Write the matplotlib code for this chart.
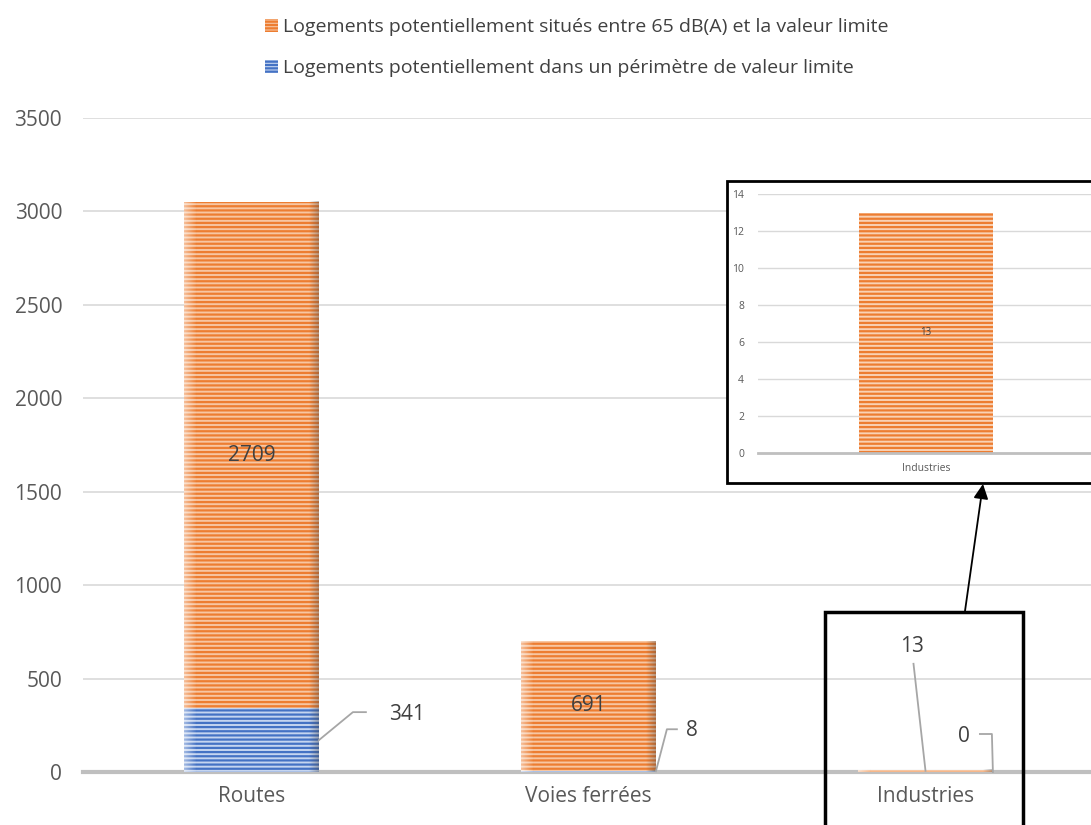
import numpy as np
import matplotlib
matplotlib.use("Agg")
import matplotlib.pyplot as plt
from matplotlib.patches import Patch, Rectangle, FancyArrowPatch
from matplotlib.lines import Line2D

plt.rcParams.update({"font.family": ["Open Sans", "DejaVu Sans"],
                     "hatch.linewidth": 1.6})

# ---- data ----------------------------------------------------------------
categories = ["Routes", "Voies ferrées", "Industries"]
dans_limite = [341, 8, 0]          # blue, bottom of stack
entre_65_limite = [2709, 691, 13]  # orange, top of stack
label_limite = "Logements potentiellement dans un périmètre de valeur limite"
label_65 = "Logements potentiellement situés entre 65 dB(A) et la valeur limite"
yticks_main = [0, 500, 1000, 1500, 2000, 2500, 3000, 3500]
yticks_inset = [0, 2, 4, 6, 8, 10, 12, 14]

ORANGE, ORANGE_BG = "#ed7d31", "#f7c6a2"
BLUE, BLUE_BG = "#4472c4", "#c5d5f0"
GRID, AXIS, TXT, LBL = "#d9d9d9", "#bfbfbf", "#595959", "#404040"

W, H = 1091, 825


def fx(px):
    return px / W


def fy(py):
    return 1 - py / H


def shade(a, bars):
    """Soft light/dark edges like the Excel pattern fill."""
    t = np.linspace(0, 1, 120)
    rgba = np.zeros((1, t.size, 4))
    light = np.clip(1 - t / 0.09, 0, 1) * 0.5
    dark = np.clip((t - 0.93) / 0.07, 0, 1) * 0.35
    rgba[0, :, :3] = np.where(light[:, None] > 0, 1.0, 0.25)
    rgba[0, :, 3] = light + dark
    for r in bars:
        if r.get_height() <= 0:
            continue
        x0, y0 = r.get_x(), r.get_y()
        a.imshow(rgba, extent=(x0, x0 + r.get_width(), y0, y0 + r.get_height()),
                 aspect="auto", zorder=3, interpolation="bilinear")


fig = plt.figure(figsize=(W / 100, H / 100), dpi=100)
ax = fig.add_axes([fx(83), fy(772), fx(1094) - fx(83), fy(118) - fy(772)])

x = np.arange(len(categories))
bw = 0.4
b1 = ax.bar(x, dans_limite, bw, color=BLUE_BG, edgecolor=BLUE, lw=0,
            hatch="----", zorder=2)
b2 = ax.bar(x, entre_65_limite, bw, bottom=dans_limite, color=ORANGE_BG,
            edgecolor=ORANGE, lw=0, hatch="----", zorder=2)
shade(ax, list(b1) + list(b2))

ax.set_xlim(-0.5, len(categories) - 0.5)
ax.set_ylim(0, 3500)
ax.set_yticks(yticks_main)
ax.set_xticks(x)
ax.set_xticklabels(categories)
ax.tick_params(length=0, labelsize=15, colors=TXT)
ax.tick_params(axis="y", pad=15)
ax.tick_params(axis="x", pad=10)
ax.yaxis.grid(True, color=GRID, lw=1.2, zorder=0)
ax.set_axisbelow(True)
for s in ["top", "right", "left"]:
    ax.spines[s].set_visible(False)
ax.spines["bottom"].set_color(AXIS)
ax.spines["bottom"].set_linewidth(3)
ax.spines["bottom"].set_zorder(1)

# labels inside the orange segments
for i in (0, 1):
    ax.text(x[i], dans_limite[i] + entre_65_limite[i] / 2, str(entre_65_limite[i]),
            ha="center", va="center", fontsize=15, color=LBL, zorder=4)

fig.canvas.draw()


def leader(xd, yd, offs, text, tx, ty, ha="left"):
    """Draw an Excel-style leader line starting at a data point, offsets in px."""
    p0 = ax.transData.transform((xd, yd))
    pts = [p0] + [p0 + np.array(o) for o in offs]
    xs = [fx(p[0]) for p in pts]
    ys = [p[1] / H for p in pts]
    fig.add_artist(Line2D(xs, ys, transform=fig.transFigure, color="#a6a6a6",
                          lw=1.3, zorder=5))
    fig.text(fx(p0[0] + tx), (p0[1] + ty) / H, text, ha=ha, va="center",
             fontsize=15, color=LBL)


# 341 (Routes, blue)
leader(x[0] + bw / 2, dans_limite[0] / 2, [(34, 28), (47, 28)], str(dans_limite[0]), 70, 26)
# 8 (Voies ferrées, blue)
leader(x[1] + bw / 2, dans_limite[1] / 2, [(11, 42), (21, 42)], str(dans_limite[1]), 30, 41)
# 13 (Industries, orange)
leader(x[2], dans_limite[2] + entre_65_limite[2] / 2, [(-12, 107)],
       str(entre_65_limite[2]), -13, 124, ha="center")
# 0 (Industries, blue)
leader(x[2] + bw / 2, dans_limite[2] / 2, [(-1, 38), (-13, 38)], str(dans_limite[2]),
       -29, 36, ha="center")

# legend
handles = [Patch(facecolor=ORANGE_BG, edgecolor=ORANGE, lw=0, hatch="-----"),
           Patch(facecolor=BLUE_BG, edgecolor=BLUE, lw=0, hatch="-----")]
fig.legend(handles, [label_65, label_limite], loc="upper center",
           bbox_to_anchor=(fx(577), fy(1)), frameon=False, fontsize=14,
           labelcolor=LBL, handlelength=0.65, handleheight=0.65,
           handletextpad=0.25, labelspacing=1.15)

# highlight box around Industries
fig.add_artist(Rectangle((fx(825), fy(830)), fx(1023) - fx(825), fy(612) - fy(830),
                         transform=fig.transFigure, fill=False, ec="black", lw=2.5,
                         zorder=10))

# inset frame
fig.add_artist(Rectangle((fx(727), fy(483)), fx(1096) - fx(727), fy(181) - fy(483),
                         transform=fig.transFigure, fc="white", ec="black", lw=2,
                         zorder=3))

axi = fig.add_axes([fx(758), fy(453), fx(1094) - fx(758), fy(194) - fy(453)], zorder=11)
axi.patch.set_alpha(0)
bi = axi.bar([0], [entre_65_limite[2]], bw, color="#f9d2b5", edgecolor=ORANGE, lw=0,
             hatch="----", zorder=2)
axi.text(0, entre_65_limite[2] / 2, str(entre_65_limite[2]), ha="center", va="center",
         fontsize=7, color=LBL, zorder=5)
axi.set_xlim(-0.5, 0.5)
axi.set_ylim(0, 14)
axi.set_yticks(yticks_inset)
axi.set_xticks([0])
axi.set_xticklabels([categories[2]])
axi.tick_params(length=0, labelsize=7.5, colors=TXT)
axi.tick_params(axis="y", pad=10)
axi.tick_params(axis="x", pad=7)
axi.yaxis.grid(True, color=GRID, lw=1, zorder=0)
axi.set_axisbelow(True)
for s in ["top", "right", "left"]:
    axi.spines[s].set_visible(False)
axi.spines["bottom"].set_color(AXIS)
axi.spines["bottom"].set_linewidth(2)

# arrow from the box to the inset
fig.add_artist(FancyArrowPatch((fx(965), fy(611)), (fx(983), fy(484)),
                               transform=fig.transFigure, arrowstyle="-|>",
                               mutation_scale=22, color="black", lw=1.3,
                               shrinkA=0, shrinkB=0, zorder=12))

fig.savefig("out.png", dpi=100)
